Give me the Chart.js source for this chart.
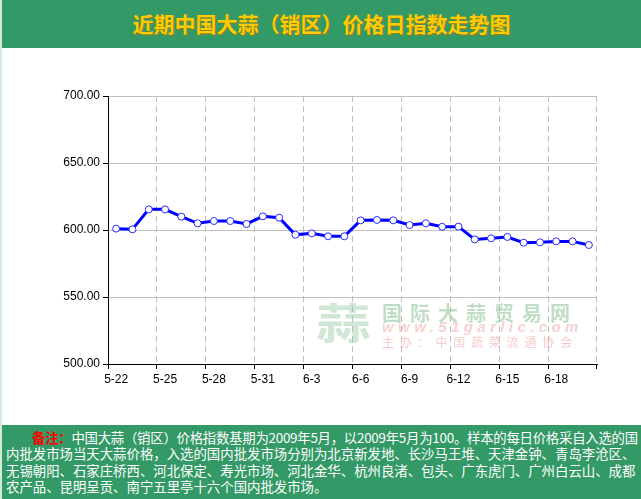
<!DOCTYPE html>
<html>
<head>
<meta charset="utf-8">
<script src="https://cdn.jsdelivr.net/npm/chart.js@4/dist/chart.umd.min.js"></script>
<style>
  body { margin: 0; width: 641px; height: 499px; position: relative; background: #fff; overflow: hidden; }
  .edge { position: absolute; left: 0; top: 0; width: 2px; height: 499px; background: #d4ebd6; }
  .title { position: absolute; left: 2px; top: 0; width: 639px; height: 48px; background: #339966;
    color: #ffcc00; font: bold 21px "Noto Sans CJK SC", sans-serif; text-align: center; line-height: 46px;
    text-shadow: 1px 1px 0 #8a7a20; }
  #wrap { position: absolute; left: 0; top: 48px; width: 641px; height: 377px; }
  .note { position: absolute; left: 2px; top: 425px; width: 635px; height: 70px; background: #339966;
    padding: 4px 0 0 4px; color: #fff; font: 13.4px "Noto Sans CJK SC", sans-serif; line-height: 16.3px;
    white-space: nowrap; overflow: hidden; }
  .note b { color: #ff0000; }
  .note .l1 { letter-spacing: -0.25px; }
  .wm { position: absolute; white-space: nowrap; pointer-events: none; }
</style>
</head>
<body>
<div class="edge"></div>
<div class="title">近期中国大蒜（销区）价格日指数走势图</div>
<div id="wrap"><canvas id="myChart" width="641" height="377"></canvas></div>
<div class="wm" style="left:316px;top:300px;font:bold 42px/42px 'Noto Sans CJK SC';color:rgba(140,195,150,0.4);transform:scaleX(1.3);transform-origin:left top;">蒜</div>
<div class="wm" style="left:382px;top:298px;font:bold 20px 'Noto Sans CJK SC';letter-spacing:8px;color:rgba(140,195,150,0.55);">国际大蒜贸易网</div>
<div class="wm" style="left:382px;top:318px;font:italic bold 15px 'Liberation Sans';letter-spacing:4.4px;color:rgba(240,150,150,0.45);">www.51garlic.com</div>
<div class="wm" style="left:382px;top:333px;font:12px 'Noto Sans CJK SC';letter-spacing:5.8px;color:rgba(240,150,150,0.5);">主办：中国蔬菜流通协会</div>
<div class="note">
<span class="l1"><span style="padding-left:26px"></span><b>备注：</b>中国大蒜（销区）价格指数基期为2009年5月，以2009年5月为100。样本的每日价格采自入选的国</span><br>
内批发市场当天大蒜价格，入选的国内批发市场分别为北京新发地、长沙马王堆、天津金钟、青岛李沧区、<br>
无锡朝阳、石家庄桥西、河北保定、寿光市场、河北金华、杭州良渚、包头、广东虎门、广州白云山、成都<br>
农产品、昆明呈贡、南宁五里亭十六个国内批发市场。
</div>
<script>
const dates = ['5-22', '5-23', '5-24', '5-25', '5-26', '5-27', '5-28', '5-29', '5-30', '5-31',
  '6-1', '6-2', '6-3', '6-4', '6-5', '6-6', '6-7', '6-8', '6-9', '6-10',
  '6-11', '6-12', '6-13', '6-14', '6-15', '6-16', '6-17', '6-18', '6-19', '6-20'];
const indexValues = [601.0, 600.5, 615.4, 615.4, 610.0, 605.0, 606.7, 606.7, 604.5, 610.2,
  609.2, 596.4, 597.5, 595.3, 595.3, 607.2, 607.5, 607.2, 603.7, 605.0,
  602.4, 602.5, 593.0, 593.8, 594.8, 590.5, 590.8, 591.5, 591.5, 588.8];
const yMin = 500, yMax = 700, yStep = 50;
const labelEvery = 3;

const tickFont = { family: 'Liberation Sans', size: 12 };

new Chart(document.getElementById('myChart'), {
  type: 'line',
  data: {
    labels: dates,
    datasets: [{
      data: indexValues,
      borderColor: '#0000ff',
      borderWidth: 3,
      tension: 0,
      pointRadius: 3.5,
      pointBorderWidth: 1,
      pointBackgroundColor: '#ffffff',
      pointBorderColor: '#2a2aff'
    }]
  },
  options: {
    responsive: false,
    devicePixelRatio: 1,
    animation: false,
    layout: { padding: { left: 0, top: 48, right: 44, bottom: 0 } },
    plugins: { legend: { display: false }, tooltip: { enabled: false } },
    scales: {
      x: {
        offset: true,
        afterFit: s => { s.height = 61; },
        grid: {
          offset: true,
          tickLength: 5,
          color: c => (c.index === undefined || (c.index % labelEvery === 0 && c.index > 0)) ? '#c0c0c0' : 'rgba(0,0,0,0)',
          tickColor: c => (c.index === undefined || c.index % labelEvery === 0) ? '#000' : 'rgba(0,0,0,0)'
        },
        border: { color: '#000', width: 1, dash: [6, 4] },
        ticks: {
          autoSkip: false,
          maxRotation: 0,
          padding: 3,
          color: '#000',
          font: tickFont,
          callback: (v, i) => i % labelEvery === 0 ? dates[i] : ''
        }
      },
      y: {
        min: yMin,
        max: yMax,
        afterFit: s => { s.width = 108; },
        grid: { color: '#c0c0c0', tickColor: '#000', tickLength: 5 },
        border: { color: '#000', width: 1 },
        ticks: {
          stepSize: yStep,
          padding: 3,
          color: '#000',
          font: tickFont,
          callback: v => v.toFixed(2)
        }
      }
    }
  }
});
</script>
</body>
</html>
